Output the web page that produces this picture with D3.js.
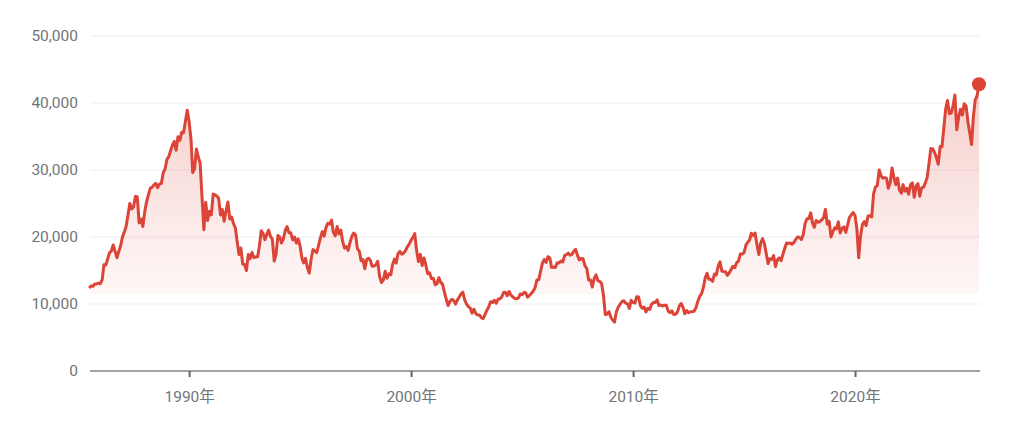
<!DOCTYPE html>
<html>
<head>
<meta charset="utf-8">
<script src="https://cdn.jsdelivr.net/npm/d3@7"></script>
<style>
  html, body { margin: 0; padding: 0; background: #fff; }
  svg { display: block; font-family: Roboto, "Noto Sans CJK JP", sans-serif; }
</style>
</head>
<body>
<svg id="chart" width="1024" height="437"></svg>
<script>
// Monthly values, starting July 1985
const startMonth = "1985-07";
const values = [
  // 1985 Jul-Dec
  12400, 12700, 12650, 12980, 13000, 13113,
  // 1986
  13025, 13640, 15860, 15825, 16700, 17650, 17900, 18800, 17850, 16910, 17850, 18700,
  // 1987
  20020, 20770, 21560, 23270, 25000, 24180, 24490, 26030, 26010, 22100, 22690, 21564,
  // 1988
  23720, 25240, 26260, 27260, 27420, 27770, 28000, 27360, 27920, 27990, 29580, 30159,
  // 1989
  31580, 32000, 32840, 33710, 34270, 32950, 34950, 34430, 35640, 35550, 37270, 38916,
  // 1990
  37190, 34590, 29600, 30200, 33130, 31940, 31040, 25980, 21100, 25190, 22450, 23849,
  // 1991
  23290, 26410, 26290, 26110, 25790, 23290, 24120, 22340, 23920, 25220, 22690, 22984,
  // 1992
  22020, 21340, 19350, 17390, 18350, 15950, 15910, 15000, 17400, 16770, 17680, 16925,
  // 1993
  17020, 17050, 18590, 20920, 20550, 19590, 20380, 21030, 20100, 19700, 16410, 17417,
  // 1994
  20230, 19990, 19110, 19730, 20970, 21550, 20640, 20630, 19560, 19990, 19080, 19723,
  // 1995
  18650, 16810, 16140, 16810, 15440, 14600, 16680, 18120, 17910, 17650, 18740, 19868,
  // 1996
  20810, 20130, 21400, 22040, 21960, 22530, 20690, 20170, 21560, 20470, 21020, 19361,
  // 1997
  18330, 18560, 18000, 19150, 20070, 20600, 20330, 18230, 17890, 16460, 16630, 15259,
  // 1998
  16630, 16830, 16530, 15640, 15670, 15830, 16380, 14110, 13200, 13560, 14880, 13842,
  // 1999
  14500, 14370, 15840, 16700, 16110, 17530, 17860, 17440, 17600, 17940, 18560, 18934,
  // 2000
  19540, 19960, 20500, 17970, 16330, 17410, 15730, 16860, 15750, 14540, 14650, 13785,
  // 2001
  13840, 12880, 12990, 13930, 13260, 12970, 11860, 10710, 9770, 10370, 10700, 10543,
  // 2002
  9990, 10590, 11020, 11490, 11760, 10620, 10000, 9620, 9380, 8640, 9220, 8579,
  // 2003
  8340, 8360, 7973, 7800, 8420, 9080, 9560, 10340, 10220, 10560, 10100, 10677,
  // 2004
  10780, 11040, 11715, 11760, 11240, 11860, 11330, 11080, 10820, 10770, 10900, 11489,
  // 2005
  11390, 11740, 11670, 11010, 11280, 11580, 11900, 12410, 13570, 13610, 14870, 16111,
  // 2006
  16650, 16210, 17060, 16910, 15470, 15500, 15460, 16140, 16130, 16400, 16270, 17226,
  // 2007
  17380, 17600, 17290, 17400, 17880, 18140, 17250, 16570, 16790, 16740, 15680, 15308,
  // 2008
  13590, 13600, 12530, 13850, 14340, 13480, 13380, 13070, 11260, 8400, 8510, 8860,
  // 2009
  7990, 7570, 7300, 8830, 9520, 9960, 10360, 10490, 10130, 10030, 9350, 10546,
  // 2010
  10200, 10130, 11090, 11060, 9770, 9380, 9540, 8820, 9370, 9200, 9940, 10229,
  // 2011
  10240, 10620, 9760, 9850, 9690, 9820, 9830, 8950, 8700, 8990, 8430, 8455,
  // 2012
  8800, 9720, 10080, 9520, 8540, 9010, 8700, 8840, 8870, 8930, 9450, 10395,
  // 2013
  11140, 11560, 12400, 13860, 14600, 13680, 13670, 13390, 14460, 14330, 15660, 16291,
  // 2014
  14910, 14840, 14830, 14300, 14630, 15160, 15620, 15420, 16170, 16410, 17460, 17451,
  // 2015
  17670, 18800, 19210, 19520, 20560, 20240, 20590, 18890, 17390, 19080, 19750, 19034,
  // 2016
  17520, 16030, 16760, 16670, 17230, 15580, 16570, 16890, 16450, 17430, 18310, 19114,
  // 2017
  19040, 19120, 18910, 19200, 19650, 20030, 19930, 19650, 20360, 22010, 22720, 22765,
  // 2018
  23600, 22070, 21450, 22470, 22200, 22300, 22550, 22870, 24120, 21920, 22350, 20015,
  // 2019
  20770, 21390, 21210, 22260, 20600, 21280, 21520, 20700, 21760, 22930, 23290, 23657,
  // 2020
  23200, 21140, 16900, 20190, 21880, 22290, 21710, 23140, 23190, 22980, 26430, 27444,
  // 2021
  27660, 30000, 29180, 28810, 28860, 28790, 27280, 28090, 30300, 28890, 27820, 28792,
  // 2022
  27000, 26530, 27820, 26850, 27280, 26390, 27800, 28090, 25940, 27590, 27970, 26095,
  // 2023
  27330, 27450, 28040, 28860, 30890, 33190, 33170, 32620, 31860, 30860, 33490, 33464,
  // 2024
  36290, 39170, 40370, 38410, 38490, 39580, 41200, 36000, 37920, 39080, 38210, 39895,
  // 2025
  39570, 37160, 35620, 33800, 37970, 40487, 41070, 42800
];
const yTicks = [0, 10000, 20000, 30000, 40000, 50000];
const xTickYears = [1990, 2000, 2010, 2020];
const domainStart = "1985-07-15";
const domainEnd = "2025-08-18";
const fillBaseValue = 11500;

const parseM = d3.timeParse("%Y-%m");
const parseD = d3.timeParse("%Y-%m-%d");
const start = parseM(startMonth);
const data = values.map((v, i) => ({ date: d3.timeMonth.offset(start, i), value: v }));

const margin = { left: 90, right: 44, top: 36, bottom: 66 };
const W = 1024, H = 437;
const svg = d3.select("#chart");

const x = d3.scaleTime()
  .domain([parseD(domainStart), parseD(domainEnd)])
  .range([margin.left, W - margin.right]);
const y = d3.scaleLinear().domain([0, 50000]).range([371, 36]);

const red = "#db4437";

// gradient
const defs = svg.append("defs");
const grad = defs.append("linearGradient")
  .attr("id", "fillGrad").attr("gradientUnits", "userSpaceOnUse")
  .attr("x1", 0).attr("x2", 0).attr("y1", y(43000)).attr("y2", y(fillBaseValue));
grad.append("stop").attr("offset", 0).attr("stop-color", red).attr("stop-opacity", 0.26);
grad.append("stop").attr("offset", 1).attr("stop-color", red).attr("stop-opacity", 0.04);
defs.append("clipPath").attr("id", "fillClip")
  .append("rect").attr("x", margin.left).attr("y", 0)
  .attr("width", W - margin.right - margin.left).attr("height", y(fillBaseValue));

// gridlines
svg.append("g").selectAll("line")
  .data(yTicks.filter(d => d > 0))
  .join("line")
  .attr("x1", margin.left).attr("x2", W - margin.right)
  .attr("y1", d => y(d)).attr("y2", d => y(d))
  .attr("stroke", "#eeeeee").attr("stroke-width", 1.2);

// y labels
svg.append("g").selectAll("text")
  .data(yTicks)
  .join("text")
  .attr("x", 78).attr("y", d => y(d))
  .attr("dy", "0.35em")
  .attr("text-anchor", "end")
  .attr("fill", "#70757a")
  .attr("font-size", 15.5)
  .text(d => d3.format(",")(d));

// area
const area = d3.area()
  .x(d => x(d.date))
  .y0(y(fillBaseValue))
  .y1(d => y(d.value))
  .curve(d3.curveLinear);
svg.append("path")
  .datum(data)
  .attr("d", area)
  .attr("fill", "url(#fillGrad)")
  .attr("clip-path", "url(#fillClip)");

// baseline axis
const xAxis = d3.axisBottom(x)
  .tickValues(xTickYears.map(yr => new Date(yr, 0, 1)))
  .tickSize(6)
  .tickPadding(14)
  .tickFormat(d => d.getFullYear() + "年");
const gx = svg.append("g")
  .attr("transform", `translate(0,${y(0)})`)
  .call(xAxis);
gx.select(".domain").attr("stroke", "#80868b").attr("stroke-width", 1.5)
  .attr("d", `M${margin.left},0H${W - margin.right}`);
gx.selectAll(".tick line").attr("stroke", "#5f6368").attr("stroke-width", 2);
gx.selectAll(".tick text")
  .attr("fill", "#70757a")
  .attr("font-size", 15.5)
  .attr("font-family", 'Roboto, "Noto Sans CJK JP", sans-serif');

// line
const line = d3.line()
  .x(d => x(d.date))
  .y(d => y(d.value))
  .curve(d3.curveLinear);
svg.append("path")
  .datum(data)
  .attr("d", line)
  .attr("fill", "none")
  .attr("stroke", red)
  .attr("stroke-width", 3)
  .attr("stroke-linejoin", "round");

// end dot
const last = data[data.length - 1];
svg.append("circle")
  .attr("cx", x(last.date)).attr("cy", y(last.value))
  .attr("r", 7)
  .attr("fill", red);
</script>
</body>
</html>
